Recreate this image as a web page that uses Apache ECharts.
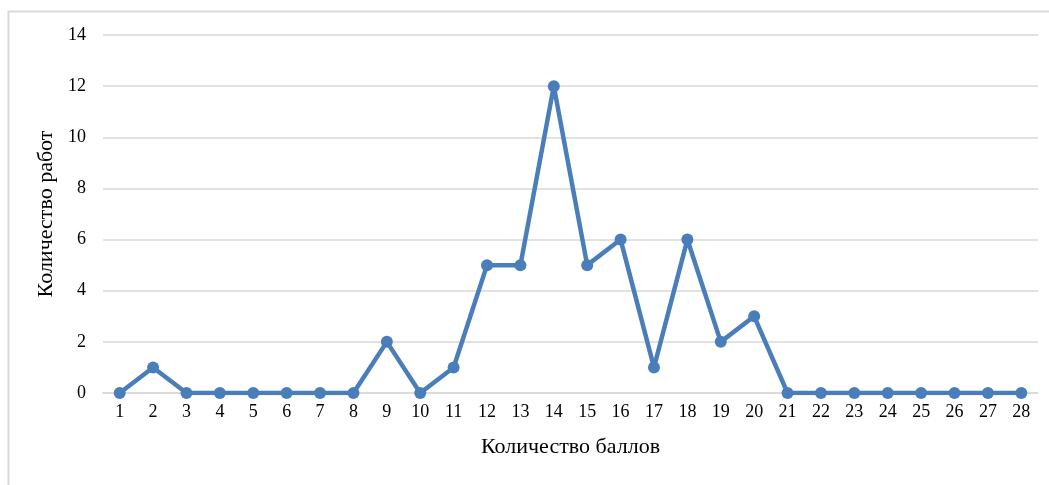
<!DOCTYPE html>
<html><head><meta charset="utf-8">
<script src="https://cdn.jsdelivr.net/npm/echarts@6/dist/echarts.min.js"></script>
<style>html,body{margin:0;padding:0;background:#fff}#c{width:1049px;height:485px}</style>
</head><body><div id="c"></div>
<script>
const categories = ['1','2','3','4','5','6','7','8','9','10','11','12','13','14','15','16','17','18','19','20','21','22','23','24','25','26','27','28'];
const values = [0,1,0,0,0,0,0,0,2,0,1,5,5,12,5,6,1,6,2,3,0,0,0,0,0,0,0,0];
const xTitle = 'Количество баллов';
const yTitle = 'Количество работ';
const font = '"Liberation Serif","Times New Roman",serif';
const chart = echarts.init(document.getElementById('c'));
chart.setOption({
  animation: false,
  graphic: [{type:'rect', shape:{x:8.5,y:11.5,width:1100,height:600}, style:{fill:'none',stroke:'#d9d9d9',lineWidth:2}, silent:true}],
  grid: {left:103, right:11, top:35, bottom:92},
  xAxis: {type:'category', data:categories, boundaryGap:true,
    axisLine:{show:true, lineStyle:{color:'#d9d9d9', width:1.5}}, axisTick:{show:false},
    axisLabel:{color:'#000', fontFamily:font, fontSize:18, margin:10},
    name:xTitle, nameLocation:'middle', nameGap:43, nameTextStyle:{color:'#000', fontFamily:font, fontSize:22}},
  yAxis: {type:'value', min:0, max:14, interval:2,
    axisLine:{show:false}, axisTick:{show:false},
    splitLine:{lineStyle:{color:'#d9d9d9', width:1.5}},
    axisLabel:{color:'#000', fontFamily:font, fontSize:18, margin:17},
    name:yTitle, nameLocation:'middle', nameGap:38, nameRotate:90, nameTextStyle:{color:'#000', fontFamily:font, fontSize:22}},
  series: [{type:'line', data:values, symbol:'circle', symbolSize:12,
    lineStyle:{color:'#4A7EBB', width:4.5}, itemStyle:{color:'#4A7EBB'}}]
});
</script></body></html>
